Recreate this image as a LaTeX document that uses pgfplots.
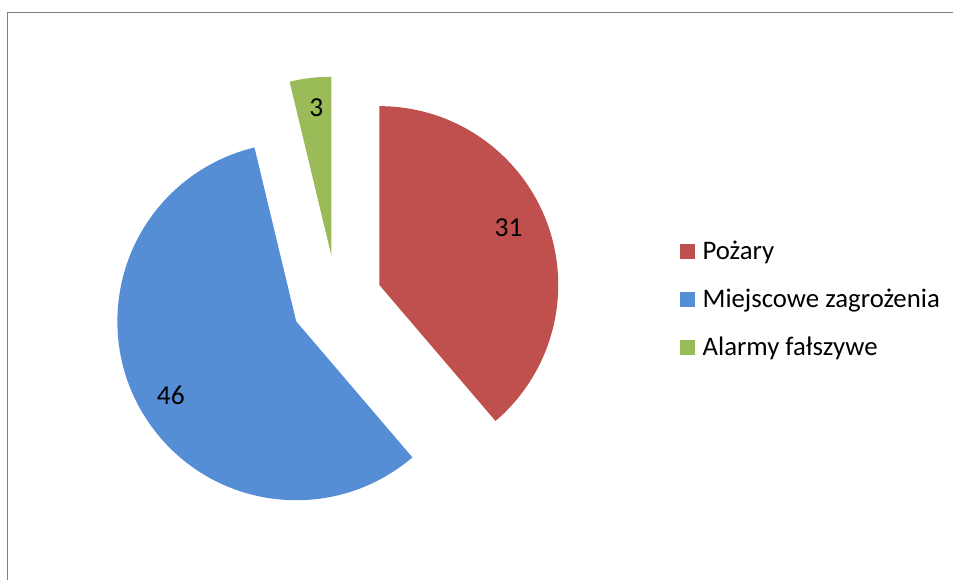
\documentclass[border=0pt]{standalone}
\usepackage{pgfplots}
\pgfplotsset{compat=1.18}
\usepackage{fontspec}
\setmainfont{Carlito}
\definecolor{cred}{HTML}{C0504D}
\definecolor{cblue}{HTML}{558ED5}
\definecolor{cgreen}{HTML}{9BBB59}
\definecolor{cframe}{HTML}{808080}
% data
\def\vA{31}\def\vB{46}\def\vC{3}
\pgfmathsetmacro\total{\vA+\vB+\vC}
\pgfmathsetmacro\aS{90}
\pgfmathsetmacro\aE{\aS-\vA/\total*360}
\pgfmathsetmacro\bE{\aE-\vB/\total*360}
\pgfmathsetmacro\cE{\bE-\vC/\total*360}
\pgfmathsetmacro\aM{(\aS+\aE)/2}
\pgfmathsetmacro\bM{(\aE+\bE)/2}
\pgfmathsetmacro\cM{(\bE+\cE)/2}
\newcommand\slice[4]{%
  \fill[#1] ([shift={(#4:45.5pt)}]axis cs:337,279) -- ++(#2:179pt)
    arc[start angle=#2,end angle=#3,radius=179pt] -- cycle;}
\begin{document}
\begin{tikzpicture}
\begin{axis}[x=1pt,y=1pt,xmin=0,xmax=954,ymin=0,ymax=580,hide axis,clip=false]
\path (axis cs:0,0) rectangle (axis cs:954,580);
\draw[cframe,line width=1.6pt] (axis cs:7.5,0) -- (axis cs:7.5,567.5) -- (axis cs:954,567.5);
\slice{cred}{\aS}{\aE}{\aM}
\slice{cblue}{\aE}{\bE}{\bM}
\slice{cgreen}{\bE}{\cE}{\cM}
\node[font=\fontsize{27.5}{32}\selectfont] at (axis cs:509,352) {\vA};
\node[font=\fontsize{27.5}{32}\selectfont] at (axis cs:171,184) {\vB};
\node[font=\fontsize{27.5}{32}\selectfont] at (axis cs:316.7,472) {\vC};
% legend
\fill[cred] (axis cs:681,321) rectangle (axis cs:696,336);
\fill[cblue] (axis cs:681,273) rectangle (axis cs:696,288);
\fill[cgreen] (axis cs:681,225) rectangle (axis cs:696,240);
\node[anchor=base west,inner sep=0pt,font=\fontsize{26.8}{32}\selectfont] at (axis cs:703,320) {Pożary};
\node[anchor=base west,inner sep=0pt,font=\fontsize{26.8}{32}\selectfont] at (axis cs:703,272) {Miejscowe zagrożenia};
\node[anchor=base west,inner sep=0pt,font=\fontsize{26.8}{32}\selectfont] at (axis cs:703,224) {Alarmy fałszywe};
\end{axis}
\end{tikzpicture}
\end{document}
